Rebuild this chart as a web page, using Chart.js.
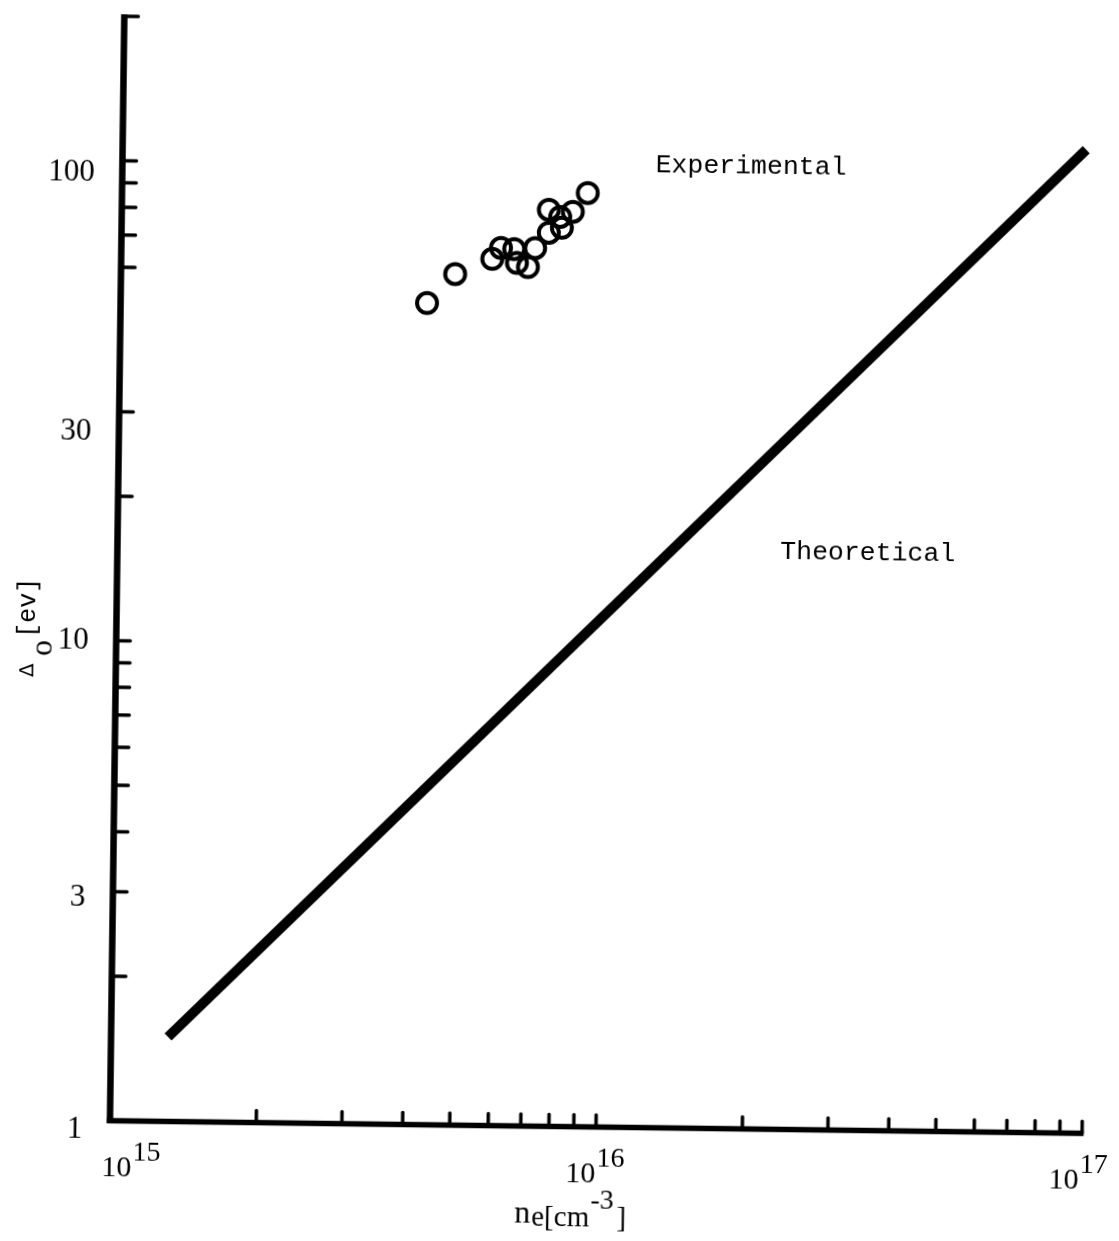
<!DOCTYPE html>
<html>
<head>
<meta charset="utf-8">
<script src="https://cdn.jsdelivr.net/npm/chart.js@4.4.1/dist/chart.umd.min.js"></script>
<style>
html, body { margin: 0; padding: 0; background: #fff; overflow: hidden; }
#wrap { width: 1119px; height: 1241px; transform: rotate(0.745deg); transform-origin: 50% 50%; }
canvas { display: block; }
</style>
</head>
<body>
<div id="wrap"><canvas id="c" width="1119" height="1241"></canvas></div>
<script>
// ---- data ----
const expDensity = [4.27e15, 4.87e15, 5.80e15, 6.04e15, 6.43e15, 6.52e15, 6.87e15, 7.10e15, 7.57e15, 7.56e15, 8.05e15, 7.98e15, 8.47e15, 9.08e15];
const expDelta   = [51.5, 59.3, 63.9, 67.4, 67.1, 62.8, 61.6, 67.5, 72.7, 81.2, 74.5, 78.5, 80.5, 88.2];
const theoDensity = [1.31e15, 9.6e16];
const theoDelta   = [1.50, 112];

const xTickMarks = [2e15, 3e15, 4e15, 5e15, 6e15, 7e15, 8e15, 9e15, 1e16,
                    2e16, 3e16, 4e16, 5e16, 6e16, 7e16, 8e16, 9e16, 1e17];
const yTickMarks = [2, 3, 4, 5, 6, 7, 8, 9, 10, 20, 30, 60, 70, 80, 90, 100, 200];
const xTickExponents = [15, 16, 17];
const yTickLabels = [1, 3, 10, 30, 100];
const annotationTexts = ['Experimental', 'Theoretical'];
const annotationX = [1.25e16, 2.31e16];
const annotationY = [98, 15.4];

// ---- styling constants ----
const SERIF = '"Liberation Serif", "DejaVu Serif", serif';
const MONO = '"Liberation Mono", "DejaVu Sans Mono", monospace';
const xLabelDx = [-8, -30, -33];
const yLabelDy = [6.7, 3.7, -2.4, 17.6, 9.6];

const decor = {
  id: 'decor',
  afterDraw(chart) {
    const ctx = chart.ctx;
    const ca = chart.chartArea;
    const xs = chart.scales.x, ys = chart.scales.y;
    ctx.save();
    ctx.strokeStyle = '#000';
    ctx.fillStyle = '#000';

    // axis lines
    ctx.lineCap = 'butt';
    ctx.lineWidth = 6.5;
    ctx.beginPath();
    ctx.moveTo(ca.left, ca.top - 2);
    ctx.lineTo(ca.left, ca.bottom + 2.5);
    ctx.stroke();
    ctx.lineWidth = 5.5;
    ctx.beginPath();
    ctx.moveTo(ca.left - 3, ca.bottom);
    ctx.lineTo(ca.right + 1.5, ca.bottom);
    ctx.stroke();

    // inward ticks
    ctx.lineWidth = 3.5;
    ctx.lineCap = 'round';
    xTickMarks.forEach(v => {
      const px = xs.getPixelForValue(v);
      ctx.beginPath();
      ctx.moveTo(px, ca.bottom);
      ctx.lineTo(px, ca.bottom - 12);
      ctx.stroke();
    });
    yTickMarks.forEach(v => {
      const py = ys.getPixelForValue(v);
      ctx.beginPath();
      ctx.moveTo(ca.left, py);
      ctx.lineTo(ca.left + 14, py);
      ctx.stroke();
    });

    // y tick labels
    ctx.textBaseline = 'alphabetic';
    ctx.textAlign = 'right';
    ctx.font = '31px ' + SERIF;
    yTickLabels.forEach((v, i) => {
      const py = ys.getPixelForValue(v);
      ctx.fillText(String(v), ca.left - 27.5, py + yLabelDy[i] + 10.5);
    });

    // x tick labels 10^n
    ctx.textAlign = 'left';
    xTickExponents.forEach((e, i) => {
      const px = xs.getPixelForValue(Math.pow(10, e));
      const x0 = px + xLabelDx[i];
      const base = ca.bottom + 55;
      ctx.font = '30px ' + SERIF;
      ctx.fillText('10', x0, base);
      const w = ctx.measureText('10').width;
      ctx.font = '28px ' + SERIF;
      ctx.fillText(String(e), x0 + w + 1, base - 16);
    });

    // x axis title  n_e[cm^-3]
    let tx = 522;
    const tb = 1222.6;
    ctx.font = '32px ' + SERIF;
    ctx.fillText('n', tx, tb);
    tx += ctx.measureText('n').width + 1;
    ctx.font = '29px ' + SERIF;
    ctx.fillText('e[cm', tx, tb + 3);
    tx += ctx.measureText('e[cm').width + 1;
    ctx.font = '28px ' + SERIF;
    ctx.fillText('-3', tx, tb - 15);
    tx += ctx.measureText('-3').width + 3;
    ctx.font = '29px ' + SERIF;
    ctx.fillText(']', tx, tb + 3);

    // y axis title  Δ_o[ev]
    ctx.save();
    ctx.translate(35.7, 684.8);
    ctx.rotate(-Math.PI / 2);
    ctx.textAlign = 'left';
    ctx.font = '20px "DejaVu Sans", sans-serif';
    ctx.fillText('Δ', 0.8, -2);
    ctx.font = '32px ' + SERIF;
    ctx.fillText('o', 22, 16.7);
    ctx.font = '25px ' + MONO;
    ctx.fillText('[ev]', 40, -0.5);
    ctx.restore();

    // annotations
    ctx.font = '26.5px ' + MONO;
    ctx.textAlign = 'left';
    annotationTexts.forEach((t, i) => {
      ctx.fillText(t, xs.getPixelForValue(annotationX[i]), ys.getPixelForValue(annotationY[i]));
    });

    ctx.restore();
  }
};

new Chart(document.getElementById('c'), {
  type: 'scatter',
  data: {
    datasets: [
      {
        label: 'Experimental',
        data: expDensity.map((x, i) => ({ x: x, y: expDelta[i] })),
        showLine: false,
        pointStyle: 'circle',
        pointRadius: 10,
        pointBorderWidth: 4,
        pointBorderColor: '#000',
        pointBackgroundColor: 'rgba(0,0,0,0)'
      },
      {
        label: 'Theoretical',
        data: theoDensity.map((x, i) => ({ x: x, y: theoDelta[i] })),
        showLine: true,
        borderColor: '#000',
        borderWidth: 10,
        borderCapStyle: 'butt',
        pointRadius: 0,
        clip: false
      }
    ]
  },
  options: {
    responsive: false,
    animation: false,
    devicePixelRatio: 1,
    events: [],
    layout: { padding: { top: 22, right: 30.3, left: 0, bottom: 0 } },
    plugins: { legend: { display: false }, tooltip: { enabled: false } },
    scales: {
      x: {
        type: 'logarithmic', min: 1e15, max: 1e17,
        ticks: { display: false },
        grid: { display: false, drawTicks: false },
        border: { display: false },
        afterFit(s) { s.height = 114.5; }
      },
      y: {
        type: 'logarithmic', min: 1, max: 200,
        ticks: { display: false },
        grid: { display: false, drawTicks: false },
        border: { display: false },
        afterFit(s) { s.width = 116.5; }
      }
    }
  },
  plugins: [decor]
});
</script>
</body>
</html>
